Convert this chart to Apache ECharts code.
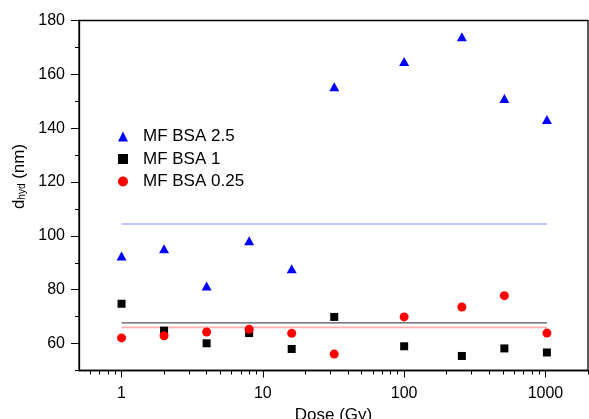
<!DOCTYPE html>
<html><head><meta charset="utf-8">
<script src="https://cdn.jsdelivr.net/npm/echarts@6/dist/echarts.min.js"></script>
<style>html,body{margin:0;padding:0;background:#fff}#c{width:589px;height:419px}</style>
</head><body><div id="c"></div>
<script>
const doses = [1, 2, 4, 8, 16, 32, 100, 256, 512, 1024];
const bsa25 = [92.5, 95.2, 81.4, 98.2, 87.8, 155.4, 164.8, 174.0, 151.0, 143.2];
const bsa1 = [74.8, 64.8, 60.1, 63.9, 58.0, 69.9, 59.0, 55.4, 58.2, 56.7];
const bsa025 = [62.1, 62.9, 64.3, 65.3, 63.8, 56.1, 69.9, 73.6, 77.8, 63.9];
const lineRange = [1, 1024];
const mean25 = 104.4, mean1 = 67.7, mean025 = 66.0;
const xMajor = [1, 10, 100, 1000];
const xMinor = [0.6, 0.7, 0.8, 0.9, 2, 3, 4, 5, 6, 7, 8, 9, 20, 30, 40, 50, 60, 70, 80, 90, 200, 300, 400, 500, 600, 700, 800, 900, 2000];
const yMajor = [60, 80, 100, 120, 140, 160, 180];
const yMinor = [50, 70, 90, 110, 130, 150, 170];

const pts = (ys) => doses.map((d, i) => [d, ys[i]]);
const flat = (v) => lineRange.map(d => [d, v]);
const font = 'Liberation Sans, Arial, sans-serif';

const chart = echarts.init(document.getElementById('c'), null, {renderer: 'canvas'});
chart.setOption({
  animation: false,
  backgroundColor: '#fff',
  grid: {left: 79, right: 1, top: 20.5, bottom: 48.5, outerBoundsMode: 'none', containLabel: false,
    show: true, borderColor: '#000', borderWidth: 1.3, backgroundColor: 'transparent'},
  legend: {
    orient: 'vertical', left: 113, top: 123, itemGap: 5.5, itemWidth: 10, itemHeight: 10,
    textStyle: {fontFamily: font, fontSize: 17, color: '#000', padding: [0, 0, 0, 10]},
    data: [
      {name: 'MF BSA 2.5', icon: 'triangle', itemStyle: {color: '#0000ff'}},
      {name: 'MF BSA 1', icon: 'rect', itemStyle: {color: '#000'}},
      {name: 'MF BSA 0.25', icon: 'circle', itemStyle: {color: '#ff0000'}}
    ]
  },
  xAxis: [{
    type: 'log', logBase: 10, min: 0.5, max: 2000,
    name: 'Dose (Gy)', nameLocation: 'middle', nameGap: 33,
    nameTextStyle: {fontFamily: font, fontSize: 17, color: '#000'},
    axisLine: {lineStyle: {color: '#000', width: 1.3}},
    axisTick: {show: true, inside: false, length: 7, lineStyle: {color: '#000', width: 1}, customValues: xMajor},
    axisLabel: {fontFamily: font, fontSize: 16, color: '#000', margin: 15, customValues: xMajor, formatter: (v) => String(Math.round(v))},
    splitLine: {show: false}
  }, {
    type: 'log', logBase: 10, min: 0.5, max: 2000, position: 'bottom',
    axisLine: {show: false},
    axisTick: {show: true, inside: false, length: 4, lineStyle: {color: '#000', width: 1}, customValues: xMinor},
    axisLabel: {show: false},
    splitLine: {show: false}
  }],
  yAxis: [{
    type: 'value', min: 50, max: 180,
    name: 'd{sub|hyd} (nm)', nameLocation: 'middle', nameGap: 45, nameRotate: 90,
    nameTextStyle: {fontFamily: font, fontSize: 17, color: '#000', padding: [0, 0, 0, 38],
      rich: {sub: {fontFamily: font, fontSize: 10, color: '#000', verticalAlign: 'bottom', padding: [7, 0, 0, 0]}}},
    axisLine: {show: true, lineStyle: {color: '#000', width: 1.3}},
    axisTick: {show: true, inside: false, length: 8, lineStyle: {color: '#000', width: 1}, customValues: yMajor},
    axisLabel: {fontFamily: font, fontSize: 16, color: '#000', margin: 14, customValues: yMajor},
    splitLine: {show: false}
  }, {
    type: 'value', min: 50, max: 180, position: 'left',
    axisLine: {show: false},
    axisTick: {show: true, inside: false, length: 4, lineStyle: {color: '#000', width: 1}, customValues: yMinor},
    axisLabel: {show: false},
    splitLine: {show: false}
  }],
  series: [
    {name: 'MF BSA 2.5', type: 'scatter', symbol: 'triangle', symbolSize: [10, 9], itemStyle: {color: '#0000ff', opacity: 1}, data: pts(bsa25), z: 5},
    {name: 'MF BSA 1', type: 'scatter', symbol: 'rect', symbolSize: 8, itemStyle: {color: '#000', opacity: 1}, data: pts(bsa1), z: 5},
    {name: 'MF BSA 0.25', type: 'scatter', symbol: 'circle', symbolSize: 9, itemStyle: {color: '#ff0000', opacity: 1}, data: pts(bsa025), z: 5},
    {type: 'line', data: flat(mean25), symbol: 'none', lineStyle: {color: '#aab2ff', width: 1.6}, z: 2, silent: true},
    {type: 'line', data: flat(mean1), symbol: 'none', lineStyle: {color: '#555555', width: 1.2}, z: 2, silent: true},
    {type: 'line', data: flat(mean025), symbol: 'none', lineStyle: {color: '#ffb0b0', width: 1.6}, z: 2, silent: true}
  ]
});
</script>
</body></html>
